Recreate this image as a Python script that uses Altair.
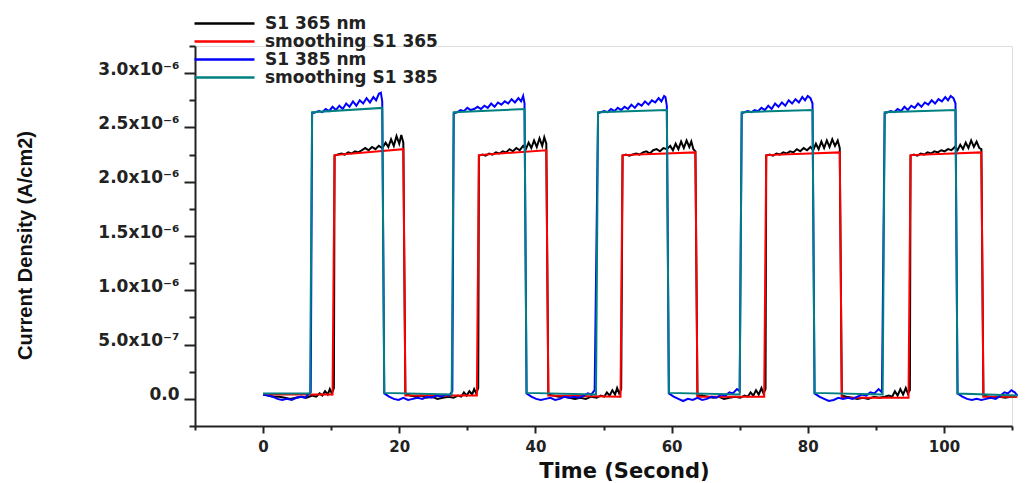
import altair as alt
import pandas as pd

# ---------------- data (values in units of 1e-6 A/cm2) ----------------
SERIES = ["S1 365 nm", "smoothing S1 365", "S1 385 nm", "smoothing S1 385"]
COLORS = ["#000000", "#ff0000", "#0000ff", "#008080"]

# raw 365 nm trace (black)
t_365 = [0, 0.8, 1.6, 2.4, 3.2, 4.0, 4.8, 5.6, 6.4, 7.2, 7.8, 8.3, 8.7, 9.1, 9.5, 9.8, 10.1, 10.4,
         10.5, 11.0, 11.5, 12.0, 12.5, 13.0, 13.5, 14.0, 14.5, 15.0, 15.5, 16.0, 16.5, 17.0, 17.5, 18.0, 18.4, 18.8, 19.2, 19.6, 20.0, 20.3, 20.6,
         20.9, 21.6, 22.4, 23.2, 24.0, 24.8, 25.6, 26.4, 27.2, 28.0, 28.6, 29.1, 29.5, 29.9, 30.3, 30.7, 31.0, 31.3, 31.6,
         31.7, 32.2, 32.7, 33.2, 33.7, 34.2, 34.7, 35.2, 35.7, 36.2, 36.7, 37.2, 37.7, 38.2, 38.6, 39.0, 39.4, 39.8, 40.2, 40.6, 41.0, 41.3, 41.6,
         41.9, 42.6, 43.4, 44.2, 45.0, 45.8, 46.6, 47.4, 48.2, 49.0, 49.6, 50.1, 50.5, 50.9, 51.3, 51.7, 52.0, 52.3, 52.6,
         52.8, 53.3, 53.8, 54.3, 54.8, 55.3, 55.8, 56.3, 56.8, 57.3, 57.8, 58.3, 58.8, 59.3, 59.8, 60.2, 60.6, 61.0, 61.4, 61.8, 62.2, 62.6, 62.9, 63.2, 63.5,
         63.8, 64.5, 65.3, 66.1, 66.9, 67.7, 68.5, 69.3, 70.1, 70.7, 71.2, 71.6, 72.0, 72.4, 72.8, 73.2, 73.5, 73.8,
         73.9, 74.4, 74.9, 75.4, 75.9, 76.4, 76.9, 77.4, 77.9, 78.4, 78.9, 79.4, 79.9, 80.4, 80.8, 81.2, 81.6, 82.0, 82.4, 82.8, 83.2, 83.6, 84.0, 84.4, 84.7,
         85.0, 85.7, 86.5, 87.3, 88.1, 88.9, 89.7, 90.5, 91.3, 91.9, 92.4, 92.8, 93.2, 93.6, 94.0, 94.4, 94.7, 95.0,
         95.1, 95.6, 96.1, 96.6, 97.1, 97.6, 98.1, 98.6, 99.1, 99.6, 100.1, 100.6, 101.1, 101.6, 102.0, 102.4, 102.8, 103.2, 103.6, 104.0, 104.4, 104.8, 105.2, 105.5,
         105.8, 106.6, 107.4, 108.2, 109.0, 109.8, 110.6]
v_365 = [0.04, 0.03, 0.02, 0.02, 0.01, 0.0, 0.01, 0.02, 0.01, 0.03, 0.02, 0.05, 0.03, 0.07, 0.04, 0.09, 0.05, 0.10,
         2.24, 2.25, 2.26, 2.25, 2.27, 2.26, 2.28, 2.27, 2.29, 2.31, 2.29, 2.32, 2.30, 2.33, 2.31, 2.36, 2.32, 2.39, 2.33, 2.42, 2.35, 2.43, 2.36,
         0.05, 0.03, 0.02, 0.03, 0.01, 0.02, 0.0, 0.01, 0.02, 0.01, 0.03, 0.02, 0.06, 0.03, 0.07, 0.04, 0.09, 0.05, 0.10,
         2.24, 2.25, 2.24, 2.26, 2.25, 2.27, 2.26, 2.28, 2.27, 2.30, 2.28, 2.31, 2.29, 2.33, 2.30, 2.36, 2.31, 2.38, 2.32, 2.40, 2.33, 2.41, 2.35,
         0.04, 0.03, 0.02, 0.02, 0.01, 0.0, 0.01, 0.0, 0.02, 0.01, 0.03, 0.02, 0.06, 0.03, 0.08, 0.04, 0.10, 0.05, 0.09,
         2.24, 2.25, 2.24, 2.25, 2.26, 2.25, 2.27, 2.28, 2.26, 2.29, 2.30, 2.28, 2.31, 2.30, 2.33, 2.29, 2.35, 2.30, 2.37, 2.31, 2.38, 2.32, 2.37, 2.30, 2.28,
         0.03, 0.03, 0.02, 0.01, 0.02, 0.0, 0.01, 0.02, 0.01, 0.03, 0.02, 0.06, 0.03, 0.08, 0.04, 0.10, 0.05, 0.09,
         2.24, 2.25, 2.24, 2.26, 2.25, 2.27, 2.26, 2.28, 2.27, 2.30, 2.28, 2.31, 2.29, 2.32, 2.29, 2.35, 2.30, 2.37, 2.31, 2.38, 2.32, 2.39, 2.33, 2.38, 2.31,
         0.03, 0.02, 0.01, 0.0, 0.01, 0.0, 0.02, 0.01, 0.02, 0.03, 0.02, 0.07, 0.03, 0.09, 0.04, 0.10, 0.05, 0.08,
         2.24, 2.25, 2.24, 2.26, 2.25, 2.27, 2.26, 2.28, 2.27, 2.29, 2.28, 2.30, 2.29, 2.32, 2.29, 2.34, 2.30, 2.36, 2.31, 2.38, 2.32, 2.37, 2.31, 2.30,
         0.03, 0.02, 0.01, 0.02, 0.01, 0.02, 0.02]

# smoothed 365 nm trace (red)
t_365s = [0, 10.2, 10.5, 20.6, 20.9, 31.4, 31.7, 41.6, 41.9, 52.5, 52.8, 63.5, 63.8, 73.6, 73.9,
          84.7, 85.0, 94.8, 95.1, 105.5, 105.8, 110.8]
v_365s = [0.04, 0.04, 2.245, 2.30, 0.03, 0.03, 2.245, 2.29, 0.03, 0.02, 2.245, 2.27, 0.02, 0.02, 2.245,
          2.27, 0.01, 0.01, 2.245, 2.27, 0.02, 0.02]

# raw 385 nm trace (blue)
t_385 = [0, 0.7, 1.4, 2.1, 2.8, 3.5, 4.2, 4.9, 5.6, 6.2, 6.6, 7.0,
         7.2, 7.7, 8.2, 8.7, 9.2, 9.7, 10.2, 10.7, 11.2, 11.7, 12.2, 12.7, 13.2, 13.7, 14.2, 14.7, 15.2, 15.7, 16.2, 16.6, 17.0, 17.3, 17.5,
         17.8, 18.5, 19.2, 19.9, 20.6, 21.3, 22.0, 22.7, 23.4, 24.1, 24.8, 25.5, 26.2, 26.8, 27.3, 27.8,
         28.0, 28.5, 29.0, 29.5, 30.0, 30.5, 31.0, 31.5, 32.0, 32.5, 33.0, 33.5, 34.0, 34.5, 35.0, 35.5, 36.0, 36.5, 37.0, 37.5, 37.9, 38.2, 38.4,
         38.7, 39.4, 40.1, 40.8, 41.5, 42.2, 42.9, 43.6, 44.3, 45.0, 45.7, 46.4, 47.1, 47.7, 48.2, 48.7,
         49.2, 49.6, 50.1, 50.6, 51.1, 51.6, 52.1, 52.6, 53.1, 53.6, 54.1, 54.6, 55.1, 55.6, 56.1, 56.6, 57.1, 57.6, 58.1, 58.5, 58.9, 59.1, 59.3,
         59.6, 60.3, 61.0, 61.7, 62.4, 63.1, 63.8, 64.5, 65.2, 65.9, 66.6, 67.3, 67.9, 68.5, 69.0, 69.6, 70.0,
         70.3, 70.7, 71.2, 71.7, 72.2, 72.7, 73.2, 73.7, 74.2, 74.7, 75.2, 75.7, 76.2, 76.7, 77.2, 77.7, 78.2, 78.7, 79.2, 79.6, 80.0, 80.4, 80.7,
         81.0, 81.7, 82.4, 83.1, 83.8, 84.5, 85.2, 85.9, 86.6, 87.3, 88.0, 88.6, 89.2, 89.8, 90.4, 90.9,
         91.3, 91.7, 92.2, 92.7, 93.2, 93.7, 94.2, 94.7, 95.2, 95.7, 96.2, 96.7, 97.2, 97.7, 98.2, 98.7, 99.2, 99.7, 100.2, 100.6, 101.0, 101.4, 101.7,
         102.0, 102.7, 103.4, 104.1, 104.8, 105.5, 106.2, 106.9, 107.6, 108.3, 108.9, 109.4, 109.9, 110.4, 110.8]
v_385 = [0.04, 0.03, 0.02, 0.0, -0.01, 0.0, -0.01, 0.01, 0.02, 0.01, 0.04, 0.06,
         2.63, 2.64, 2.65, 2.64, 2.67, 2.65, 2.69, 2.66, 2.70, 2.67, 2.72, 2.69, 2.74, 2.70, 2.75, 2.72, 2.77, 2.73, 2.78, 2.75, 2.81, 2.82, 2.74,
         0.05, 0.02, 0.0, -0.01, 0.01, -0.01, 0.0, 0.01, 0.0, 0.02, 0.01, 0.03, 0.02, 0.04, 0.03, 0.07,
         2.63, 2.64, 2.66, 2.65, 2.68, 2.66, 2.67, 2.69, 2.67, 2.70, 2.68, 2.72, 2.69, 2.73, 2.71, 2.74, 2.72, 2.76, 2.73, 2.77, 2.74, 2.79, 2.72,
         0.05, 0.02, 0.0, -0.01, 0.0, 0.01, -0.01, 0.0, 0.02, 0.01, 0.02, 0.01, 0.03, 0.05, 0.04, 0.08,
         2.63, 2.64, 2.65, 2.64, 2.67, 2.65, 2.68, 2.66, 2.69, 2.67, 2.71, 2.68, 2.72, 2.70, 2.74, 2.71, 2.75, 2.73, 2.77, 2.74, 2.79, 2.78, 2.70,
         0.05, 0.02, 0.0, -0.02, 0.0, -0.01, 0.01, -0.01, 0.0, 0.02, 0.01, 0.04, 0.03, 0.06, 0.05, 0.09, 0.07,
         2.63, 2.64, 2.65, 2.64, 2.66, 2.65, 2.68, 2.66, 2.70, 2.67, 2.72, 2.69, 2.73, 2.70, 2.75, 2.72, 2.76, 2.73, 2.78, 2.75, 2.79, 2.77, 2.72,
         0.05, 0.02, 0.0, -0.02, -0.01, 0.01, 0.0, 0.01, 0.0, 0.02, 0.04, 0.03, 0.06, 0.05, 0.09, 0.06,
         2.63, 2.64, 2.65, 2.64, 2.67, 2.65, 2.69, 2.66, 2.70, 2.68, 2.72, 2.69, 2.73, 2.71, 2.75, 2.72, 2.76, 2.74, 2.78, 2.75, 2.79, 2.77, 2.72,
         0.05, 0.02, 0.0, -0.01, 0.0, -0.01, 0.0, 0.01, 0.0, 0.03, 0.06, 0.05, 0.08, 0.06, 0.03]

# smoothed 385 nm trace (teal)
t_385s = [0, 6.9, 7.2, 17.5, 17.8, 27.7, 28.0, 38.4, 38.7, 48.9, 49.2, 59.3, 59.6, 70.0, 70.3,
          80.7, 81.0, 91.0, 91.3, 101.7, 102.0, 110.8]
v_385s = [0.05, 0.05, 2.64, 2.68, 0.055, 0.04, 2.64, 2.67, 0.055, 0.04, 2.64, 2.66, 0.055, 0.04, 2.64,
          2.66, 0.055, 0.04, 2.64, 2.66, 0.05, 0.03]

# axis ticks
x_ticks = [-10, 0, 10, 20, 30, 40, 50, 60, 70, 80, 90, 100, 110]
y_ticks = [-2.5e-7, 0.0, 2.5e-7, 5e-7, 7.5e-7, 1e-6, 1.25e-6, 1.5e-6, 1.75e-6, 2e-6,
           2.25e-6, 2.5e-6, 2.75e-6, 3e-6, 3.25e-6]

# ---------------- build table ----------------
frames = []
for name, ts, vs in [(SERIES[0], t_365, v_365), (SERIES[1], t_365s, v_365s),
                     (SERIES[2], t_385, v_385), (SERIES[3], t_385s, v_385s)]:
    frames.append(pd.DataFrame({"t": ts, "j": [v * 1e-6 for v in vs], "series": name}))

color = alt.Color(
    "series:N",
    scale=alt.Scale(domain=SERIES, range=COLORS),
    legend=alt.Legend(
        title=None, orient="none", legendX=-2, legendY=-32, padding=0,
        symbolType="M-1,0H6.5", symbolSize=256, symbolStrokeWidth=2.5,
        labelFont="DejaVu Sans", labelFontWeight="bold", labelFontSize=17,
        labelColor="#222222", rowPadding=0, labelOffset=53, labelLimit=400,
    ),
)

x_enc = alt.X(
    "t:Q",
    scale=alt.Scale(domain=[-10, 110], nice=False, zero=False),
    axis=alt.Axis(
        title="Time (Second)", values=x_ticks, grid=False,
        domainColor="#222222", domainWidth=2, tickColor="#222222", tickWidth=2,
        tickSize={"condition": {"test": "datum.value % 20 == 0", "value": 7}, "value": 4},
        labelExpr="datum.value % 20 == 0 && datum.value >= 0 && datum.value <= 100 ? datum.value : ''",
        labelFont="DejaVu Sans", labelFontWeight="bold", labelFontSize=15, labelColor="#222222",
        labelPadding=6, labelFlush=False,
        titleFont="DejaVu Sans", titleFontWeight="bold", titleFontSize=21, titleColor="#111111",
        titleX=429, titleY=45, titleBaseline="middle", titleAnchor="middle",
    ),
)

y_enc = alt.Y(
    "j:Q",
    scale=alt.Scale(domain=[-2.5e-7, 3.25e-6], nice=False, zero=False),
    axis=alt.Axis(
        title="Current Density (A/cm2)", values=y_ticks, grid=False,
        domainColor="#222222", domainWidth=2, tickColor="#222222", tickWidth=2,
        tickSize={"condition": {"test": "abs(datum.value*2e6 - round(datum.value*2e6)) < 0.01", "value": 11}, "value": 6},
        labelExpr=("abs(datum.value*2e6 - round(datum.value*2e6)) > 0.01 ? '' : "
                   "(abs(datum.value) < 1e-12 ? '0.0' : "
                   "(abs(datum.value - 5e-7) < 1e-12 ? '5.0x10\u207b\u2077' : "
                   "format(datum.value*1e6, '.1f') + 'x10\u207b\u2076'))"),
        labelFont="DejaVu Sans", labelFontWeight="bold", labelFontSize=17, labelColor="#222222",
        labelPadding=5, labelOffset=-4, labelFlush=False,
        titleFont="Liberation Sans", titleFontWeight="bold", titleFontSize=20, titleColor="#111111",
        titleAngle=-90, titleX=-170, titleY=199, titleAlign="center", titleBaseline="middle",
    ),
)

layers = []
for df in frames:
    layers.append(
        alt.Chart(df).mark_line(strokeWidth=2, interpolate="linear").encode(
            x=x_enc, y=y_enc, color=color, order="t:Q"
        )
    )

chart = (
    alt.layer(*layers)
    .properties(
        width=817, height=380,
        autosize=alt.AutoSizeParams(type="none"),
        padding={"left": 187, "top": 38, "right": 8, "bottom": 57},
    )
    .configure_view(stroke=None)
    .configure(background="white")
)

chart.save("out.html", embed_options={"renderer": "svg", "actions": False})
